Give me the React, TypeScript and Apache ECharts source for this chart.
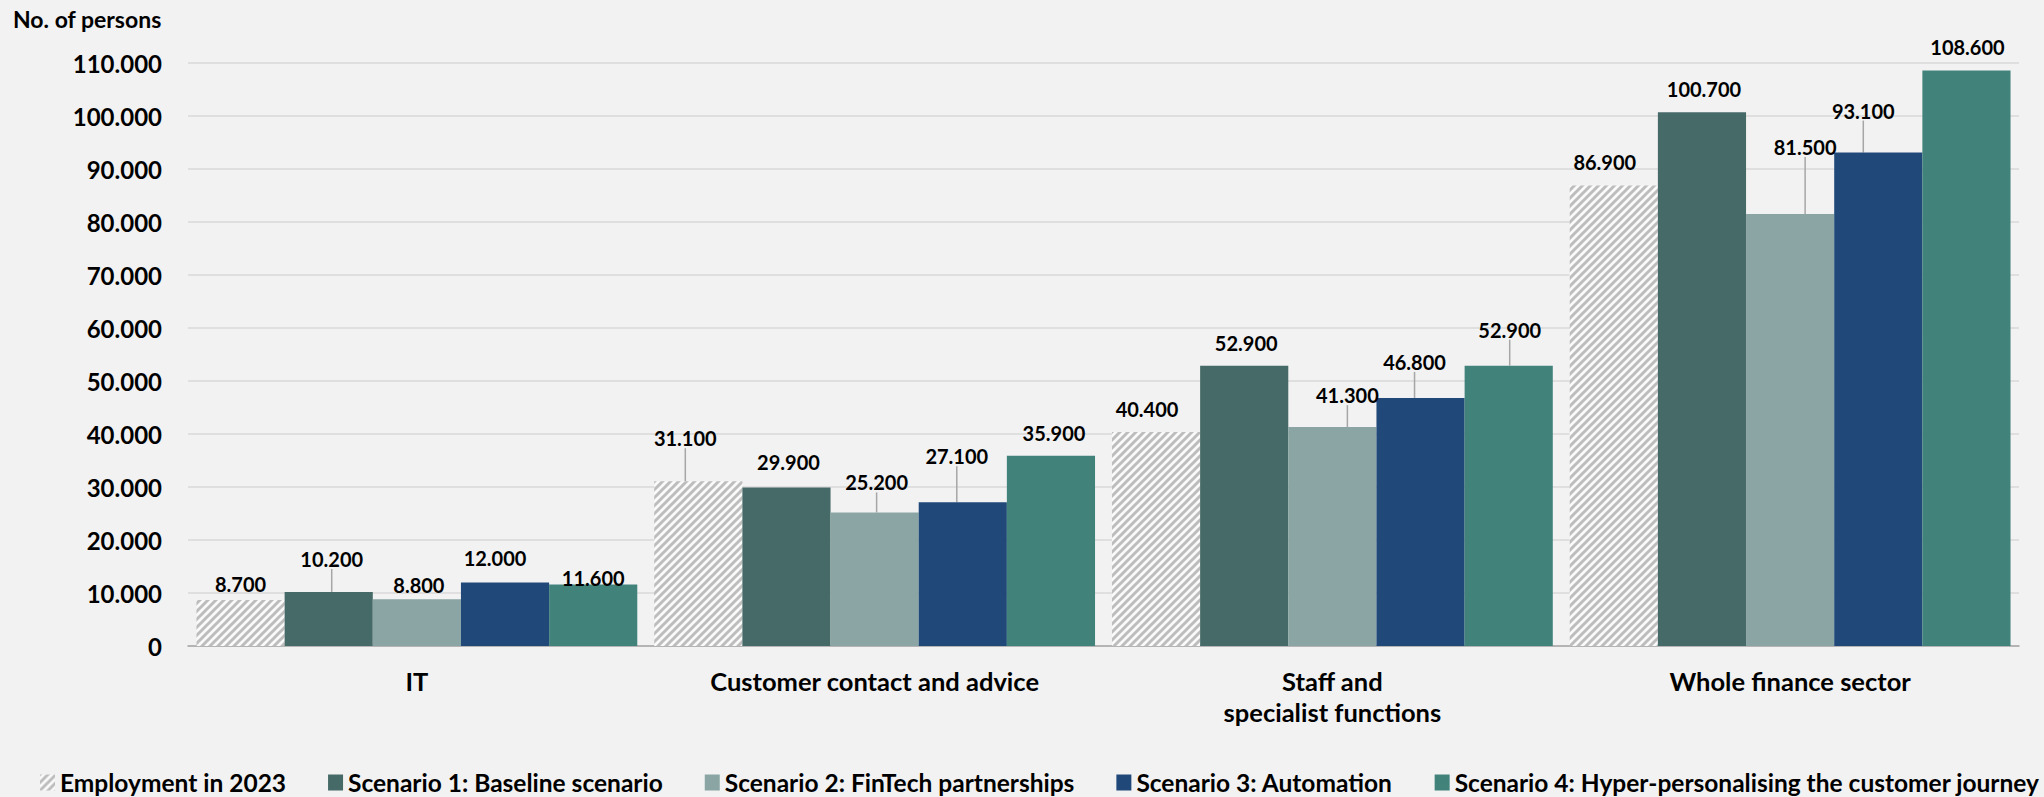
import React, { useEffect, useRef } from "react";
import * as echarts from "echarts";

const categories = ["IT", "Customer contact and advice", "Staff and\nspecialist functions", "Whole finance sector"];
const seriesNames = [
  "Employment in 2023",
  "Scenario 1: Baseline scenario",
  "Scenario 2: FinTech partnerships",
  "Scenario 3: Automation",
  "Scenario 4: Hyper-personalising the customer journey",
];
const employment2023 = [8700, 31100, 40400, 86900];
const scenario1 = [10200, 29900, 52900, 100700];
const scenario2 = [8800, 25200, 41300, 81500];
const scenario3 = [12000, 27100, 46800, 93100];
const scenario4 = [11600, 35900, 52900, 108600];
const yTicks = [0, 10000, 20000, 30000, 40000, 50000, 60000, 70000, 80000, 90000, 100000, 110000];

// label displacement (dx, dy) per series / category, as in the reference
const labelOffsets: number[][][] = [
  [[0, 7], [-13, -20], [-9, 0], [-9, 0]],
  [[3, -10], [2, -3], [2, 0], [2, 0]],
  [[2, 9], [2, -7], [15, -9], [15, -44]],
  [[-10, -1], [-6, -23], [-6, -13], [-15, -19]],
  [[0, 16], [3, 0], [1, -13], [1, 0]],
];
const leaderLines: boolean[][] = [
  [false, true, false, false],
  [true, false, false, false],
  [false, true, true, true],
  [false, true, true, true],
  [false, false, true, false],
];

const colors = ["#ffffff", "#466a67", "#8aa5a4", "#20497a", "#41827b"];

function fmt(v: number): string {
  return String(v).replace(/\B(?=(\d{3})+(?!\d))/g, ".");
}

function makeHatch(): any {
  const c = document.createElement("canvas");
  c.width = 8;
  c.height = 8;
  const ctx = c.getContext("2d")!;
  ctx.fillStyle = "#fafafa";
  ctx.fillRect(0, 0, 8, 8);
  ctx.strokeStyle = "#bdbdbd";
  ctx.lineWidth = 3;
  ctx.beginPath();
  ctx.moveTo(-4, 4); ctx.lineTo(4, -4);
  ctx.moveTo(0, 8); ctx.lineTo(8, 0);
  ctx.moveTo(4, 12); ctx.lineTo(12, 4);
  ctx.stroke();
  return { image: c, repeat: "repeat", imageWidth: 8, imageHeight: 8 };
}

export default function App() {
  const ref = useRef<HTMLDivElement>(null);
  useEffect(() => {
    if (!ref.current) return;
    const chart = echarts.init(ref.current, null, { renderer: "svg" });
    const font = "Lato";
    const hatch = makeHatch();
    const allData = [employment2023, scenario1, scenario2, scenario3, scenario4];
    const series = allData.map((arr, si) => ({
      name: seriesNames[si],
      type: "bar",
      barGap: "0%",
      barCategoryGap: "3.7%",
      itemStyle: { color: si === 0 ? hatch : colors[si] },
      label: {
        show: true,
        position: "top",
        distance: 13,
        formatter: (p: any) => fmt(p.value),
        fontFamily: font,
        fontWeight: "bold",
        fontSize: 20,
        color: "#000",
      },
      labelLayout: (p: any) => {
        const o = labelOffsets[p.seriesIndex][p.dataIndex];
        return { dx: o[0], dy: o[1] };
      },
      data: arr.map((v, ci) => ({
        value: v,
        labelLine: {
          show: leaderLines[si][ci],
          lineStyle: { color: "#a6a6a6", width: 1.5 },
        },
      })),
    }));
    chart.setOption({
      animation: false,
      backgroundColor: "#f2f2f2",
      title: {
        text: "No. of persons",
        left: 13,
        top: 7,
        padding: 0,
        textStyle: { fontFamily: font, fontWeight: "bold", fontSize: 23, color: "#000" },
      },
      legend: {
        left: 40,
        top: 770,
        padding: 0,
        itemGap: 42,
        itemWidth: 15,
        itemHeight: 16,
        textStyle: { fontFamily: font, fontWeight: "bold", fontSize: 24.5, color: "#000" },
        data: seriesNames.map((n) => ({ name: n, icon: "rect" })),
      },
      grid: { left: 188, right: 25, top: 63, bottom: 151, containLabel: false },
      xAxis: {
        type: "category",
        data: categories,
        axisLine: { lineStyle: { color: "#a6a6a6", width: 1.5 } },
        axisTick: { show: false },
        axisLabel: {
          fontFamily: font,
          fontWeight: "bold",
          fontSize: 25.5,
          color: "#000",
          margin: 19,
          lineHeight: 31,
          interval: 0,
        },
      },
      yAxis: {
        type: "value",
        min: yTicks[0],
        max: yTicks[yTicks.length - 1],
        interval: yTicks[1] - yTicks[0],
        axisLine: { show: false },
        axisTick: { show: false },
        splitLine: { lineStyle: { color: "#d9d9d9", width: 1.5 } },
        axisLabel: {
          fontFamily: font,
          fontWeight: "bold",
          fontSize: 24,
          color: "#000",
          margin: 26,
          formatter: (v: number) => fmt(v),
        },
      },
      series,
    });
    return () => chart.dispose();
  }, []);
  return (
    <div
      ref={ref}
      style={{ position: "fixed", left: 0, top: 0, width: 2044, height: 797 }}
    />
  );
}
